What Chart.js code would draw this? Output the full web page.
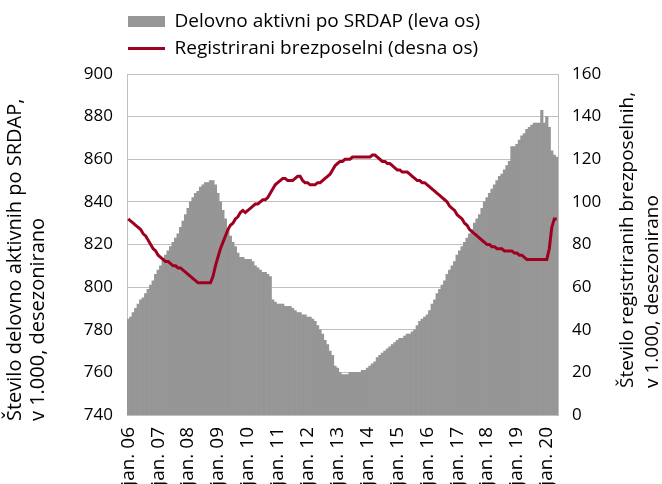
<!DOCTYPE html>
<html>
<head>
<meta charset="utf-8">
<script src="https://cdn.jsdelivr.net/npm/chart.js@4"></script>
<style>
  html, body { margin: 0; padding: 0; background: #fff; }
</style>
</head>
<body>
<canvas id="chart" width="662" height="484"></canvas>
<script>
// months jan 2006 .. may 2020
const startYear = 2006;
const monthCount = 173;
const months = [];
for (let i = 0; i < monthCount; i++) {
  months.push((startYear + Math.floor(i / 12)) + '-' + String(i % 12 + 1).padStart(2, '0'));
}
// labels shown only at january
const yearTicks = ['jan. 06', 'jan. 07', 'jan. 08', 'jan. 09', 'jan. 10', 'jan. 11', 'jan. 12',
  'jan. 13', 'jan. 14', 'jan. 15', 'jan. 16', 'jan. 17', 'jan. 18', 'jan. 19', 'jan. 20'];

// delovno aktivni (thousands, left axis)
const employed = [
  785, 786, 788, 790, 792, 794, 795, 797, 799, 801, 803, 806, // 2006
  808, 810, 813, 815, 817, 819, 821, 823, 825, 828, 831, 834, // 2007
  837, 840, 842, 844, 845, 847, 848, 849, 849, 850, 850, 848, // 2008
  844, 840, 836, 832, 827, 824, 821, 819, 816, 814, 814, 813, // 2009
  813, 813, 812, 810, 809, 808, 807, 807, 806, 805, 794, 793, // 2010
  792, 792, 792, 791, 791, 791, 790, 789, 788, 788, 787, 787, // 2011
  786, 786, 785, 784, 782, 780, 778, 775, 773, 770, 768, 763, // 2012
  762, 760, 759, 759, 759, 760, 760, 760, 760, 760, 761, 761, // 2013
  762, 763, 764, 765, 767, 768, 769, 770, 771, 772, 773, 774, // 2014
  775, 776, 776, 777, 778, 778, 779, 780, 782, 784, 785, 786, // 2015
  787, 789, 792, 794, 797, 799, 801, 803, 806, 808, 810, 812, // 2016
  815, 817, 819, 821, 823, 825, 827, 830, 832, 834, 837, 840, // 2017
  842, 844, 846, 848, 850, 852, 853, 855, 857, 859, 866, 866, // 2018
  867, 869, 871, 872, 874, 875, 876, 877, 877, 877, 883, 877, // 2019
  880, 875, 864, 862, 861                                     // 2020
];

// registrirani brezposelni (thousands, right axis)
const unemployed = [
  92, 91, 90, 89, 88, 87, 85, 84, 82, 80, 78, 77,             // 2006
  75, 74, 73, 72, 72, 71, 70, 70, 69, 69, 68, 67,             // 2007
  66, 65, 64, 63, 62, 62, 62, 62, 62, 62, 65, 70,             // 2008
  74, 78, 81, 84, 87, 89, 90, 92, 93, 95, 96, 95,             // 2009
  96, 97, 98, 99, 99, 100, 101, 101, 102, 104, 106, 108,      // 2010
  109, 110, 111, 111, 110, 110, 110, 111, 112, 112, 110, 109, // 2011
  109, 108, 108, 108, 109, 109, 110, 111, 112, 113, 115, 117, // 2012
  118, 119, 119, 120, 120, 120, 121, 121, 121, 121, 121, 121, // 2013
  121, 121, 122, 122, 121, 120, 119, 119, 118, 118, 117, 116, // 2014
  115, 115, 114, 114, 114, 113, 112, 111, 110, 110, 109, 109, // 2015
  108, 107, 106, 105, 104, 103, 102, 101, 100, 98, 97, 96,    // 2016
  94, 93, 92, 90, 89, 87, 86, 85, 84, 83, 82, 81,             // 2017
  80, 80, 79, 79, 78, 78, 78, 77, 77, 77, 77, 76,             // 2018
  76, 75, 75, 74, 73, 73, 73, 73, 73, 73, 73, 73,             // 2019
  73, 78, 88, 92, 92                                          // 2020
];

const leftTitle = ['Število delovno aktivnih po SRDAP,', 'v 1.000, desezonirano'];
const rightTitle = ['Število registriranih brezposelnih,', 'v 1.000, desezonirano'];

const gridColor = '#bfbfbf';
const fontFamily = '"Open Sans", sans-serif';
Chart.defaults.font.family = fontFamily;
Chart.defaults.font.size = 17;
Chart.defaults.color = '#000';

// rotated axis titles (both read bottom to top)
const axisTitles = {
  id: 'axisTitles',
  afterDraw(chart) {
    const c = chart.ctx;
    c.save();
    c.fillStyle = '#000';
    c.textAlign = 'left';
    c.textBaseline = 'middle';
    const put = (text, x, y, size) => {
      c.save();
      c.font = size + 'px ' + fontFamily;
      c.translate(x, y);
      c.rotate(-Math.PI / 2);
      c.fillText(text, 0, 0);
      c.restore();
    };
    put(leftTitle[0], 15, 421, 20);
    put(leftTitle[1], 38, 421, 20);
    put(rightTitle[0], 628, 388, 19);
    put(rightTitle[1], 653, 388, 19);
    c.restore();
  }
};

// nudge legend to sit where it is in the original
const legendNudge = {
  id: 'legendNudge',
  afterLayout(chart) {
    chart.legend.left -= 7;
    chart.legend.top -= 6;
  }
};

new Chart(document.getElementById('chart'), {
  type: 'bar',
  data: {
    labels: months,
    datasets: [
      {
        type: 'bar',
        label: 'Delovno aktivni po SRDAP (leva os)',
        data: employed,
        yAxisID: 'y',
        backgroundColor: '#969696',
        borderWidth: 0,
        barPercentage: 1,
        categoryPercentage: 1,
        pointStyle: 'rect',
        order: 2
      },
      {
        type: 'line',
        label: 'Registrirani brezposelni (desna os)',
        data: unemployed,
        yAxisID: 'y2',
        borderColor: '#a00020',
        backgroundColor: '#a00020',
        borderWidth: 3,
        pointRadius: 0,
        tension: 0,
        pointStyle: 'line',
        order: 1
      }
    ]
  },
  options: {
    responsive: false,
    animation: false,
    layout: { padding: { top: 10 } },
    plugins: {
      legend: {
        position: 'top',
        align: 'start',
        fullSize: false,
        labels: {
          usePointStyle: true,
          pointStyleWidth: 37,
          boxHeight: 11,
          padding: 8,
          color: '#000',
          font: { size: 19 },
          sort: (a, b) => a.datasetIndex - b.datasetIndex
        }
      },
      tooltip: { enabled: false }
    },
    scales: {
      x: {
        offset: true,
        grid: { display: false, drawTicks: false },
        border: { color: gridColor },
        ticks: {
          autoSkip: false,
          minRotation: 90,
          maxRotation: 90,
          padding: 12,
          font: { size: 19 },
          callback(value, index) {
            return index % 12 === 0 ? yearTicks[index / 12] : null;
          }
        },
        afterFit(scale) { scale.height = 69; }
      },
      y: {
        position: 'left',
        min: 740,
        max: 900,
        ticks: { stepSize: 20, padding: 14 },
        grid: { color: gridColor, drawTicks: false },
        border: { color: gridColor },
        afterFit(scale) { scale.width = 127; }
      },
      y2: {
        position: 'right',
        min: 0,
        max: 160,
        ticks: { stepSize: 20, padding: 14 },
        grid: { display: false, drawTicks: false },
        border: { display: true, color: gridColor },
        afterFit(scale) { scale.width = 104; }
      }
    }
  },
  plugins: [axisTitles, legendNudge]
});
</script>
</body>
</html>
